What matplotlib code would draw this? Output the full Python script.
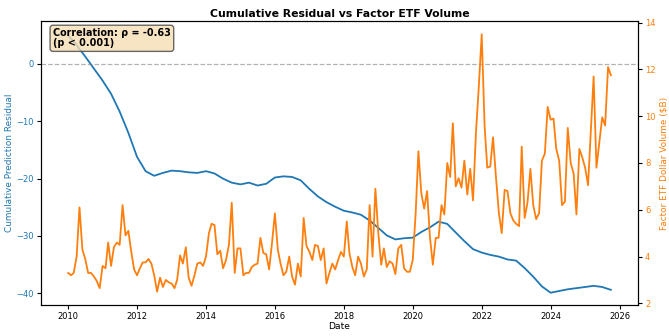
import matplotlib
matplotlib.use("Agg")
import matplotlib.pyplot as plt
import matplotlib.dates as mdates
import numpy as np
import pandas as pd

# monthly factor ETF dollar volume ($B), Jan 2010 .. Oct 2025
volume_dates = pd.date_range("2010-01-01", periods=190, freq="MS")
etf_volume = [
    3.3, 3.2, 3.3, 4.0, 6.1, 4.3, 3.9, 3.3, 3.3, 3.15, 2.95, 2.65,
    3.6, 3.5, 4.6, 3.6, 4.4, 4.6, 4.5, 6.2, 4.9, 5.1, 4.2, 3.45,
    3.2, 3.5, 3.75, 3.75, 3.9, 3.7, 3.2, 2.5, 3.1, 2.7, 3.0, 2.9,
    2.85, 2.65, 3.0, 4.05, 3.7, 4.4, 3.1, 2.75, 3.2, 3.7, 3.75, 3.6,
    4.0, 5.0, 5.4, 5.35, 4.1, 4.25, 3.5, 3.85, 4.5, 6.3, 3.3, 4.35,
    4.35, 3.2, 3.3, 3.3, 3.55, 3.65, 3.7, 4.8, 4.15, 4.1, 3.45, 4.55,
    5.85, 4.3, 3.7, 3.2, 3.35, 4.0, 3.15, 2.8, 3.7, 3.15, 5.65, 4.45,
    4.2, 3.85, 4.5, 4.45, 3.85, 4.35, 2.85, 3.3, 3.7, 3.45, 3.85, 4.2,
    4.0, 5.5, 4.15, 3.55, 3.2, 4.0, 3.7, 3.15, 3.45, 6.2, 4.0, 6.9,
    5.0, 3.65, 4.35, 3.55, 3.8, 3.7, 3.25, 4.35, 4.5, 3.5, 3.35, 3.35,
    3.85, 5.85, 8.5, 6.7, 6.05, 6.8, 4.85, 3.65, 4.8, 4.8, 6.2, 5.8,
    8.0, 7.4, 9.7, 7.0, 7.35, 6.95, 8.1, 6.65, 7.75, 6.4, 9.3, 11.25,
    13.5, 9.55, 7.8, 7.85, 9.1, 7.4, 5.9, 5.0, 6.85, 6.8, 5.85, 5.55,
    5.4, 5.3, 8.7, 5.65, 6.3, 7.75, 6.2, 5.6, 5.85, 8.1, 8.4, 10.4,
    9.85, 9.9, 8.6, 8.1, 6.2, 6.35, 9.5, 8.0, 7.55, 5.8, 8.6, 8.25,
    7.8, 7.05, 9.3, 11.7, 7.8, 8.9, 9.95, 9.6, 12.1, 11.75,
]

# cumulative prediction residual, read quarterly
residual_dates = pd.date_range("2010-01-01", periods=64, freq="QS")
cum_residual = [
    5.0, 3.3, 1.3, -0.8, -2.9, -5.2, -8.3, -12.0, -16.2, -18.7, -19.5, -19.0,
    -18.6, -18.7, -18.9, -19.0, -18.7, -19.1, -20.0, -20.7, -21.0, -20.7, -21.2, -20.9,
    -19.8, -19.6, -19.7, -20.3, -21.8, -23.1, -24.1, -24.9, -25.6, -25.9, -26.3, -27.3,
    -28.6, -29.9, -30.6, -30.4, -30.3, -29.3, -28.5, -27.5, -27.9, -29.4, -30.9, -32.3,
    -32.9, -33.3, -33.6, -34.1, -34.3, -35.6, -37.1, -38.8, -39.9, -39.6, -39.3, -39.1,
    -38.9, -38.7, -38.9, -39.4,
]

rho = -0.63

fig = plt.figure(figsize=(6.69, 3.36), dpi=100)
ax1 = fig.add_axes([0.0613, 0.0923, 0.8924, 0.8452])

ax1.plot(residual_dates, cum_residual, color="tab:blue", linewidth=1.3)
ax1.axhline(0, color="gray", linestyle="--", linewidth=0.9, alpha=0.6)
ax1.set_ylim(-42.04, 7.5)
ax1.set_yticks([-40, -30, -20, -10, 0])
ax1.set_ylabel("Cumulative Prediction Residual", color="tab:blue",
               fontsize=6.4, labelpad=2)
ax1.tick_params(axis="y", labelcolor="tab:blue", labelsize=6, length=3, pad=2)
ax1.tick_params(axis="x", labelsize=6, length=3, pad=2)
ax1.set_xlabel("Date", fontsize=6.6, labelpad=1)
ax1.xaxis.set_major_locator(mdates.YearLocator(2))
ax1.xaxis.set_major_formatter(mdates.DateFormatter("%Y"))

ax2 = ax1.twinx()
ax2.plot(volume_dates, etf_volume, color="tab:orange", linewidth=1.3)
ax2.set_ylim(1.93, 14.07)
ax2.set_yticks([2, 4, 6, 8, 10, 12, 14])
ax2.set_ylabel(r"Factor ETF Dollar Volume (\$B)", color="tab:orange",
               fontsize=6.4, labelpad=3)
ax2.tick_params(axis="y", labelcolor="tab:orange", labelsize=6, length=3, pad=2)

ax1.set_title("Cumulative Residual vs Factor ETF Volume", fontsize=7.8,
              fontweight="bold", pad=3)

ax1.text(0.02, 0.975, f"Correlation: ρ = {rho:.2f}\n(p < 0.001)",
         transform=ax1.transAxes, fontsize=6.9, fontweight="bold",
         va="top", ha="left", linespacing=1.05, zorder=5,
         bbox=dict(boxstyle="round,pad=0.3", facecolor="wheat", alpha=0.8,
                   edgecolor="#444444"))

fig.savefig("out.png", dpi=100)
